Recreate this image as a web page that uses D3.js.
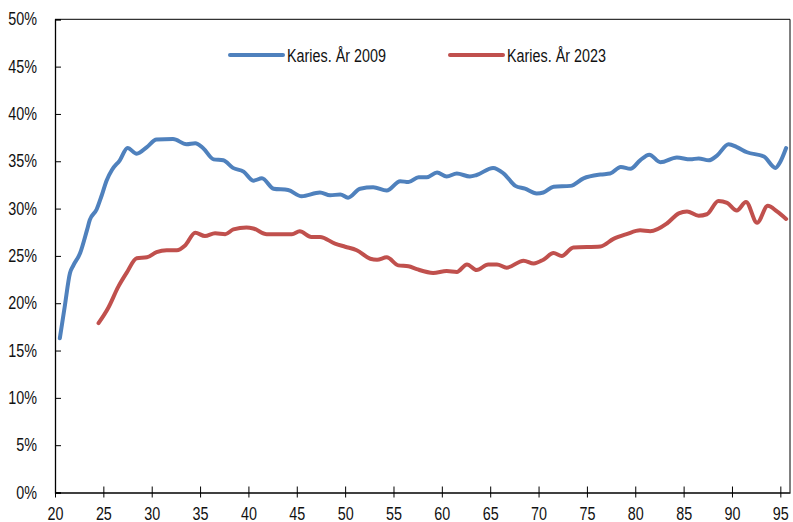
<!DOCTYPE html>
<html>
<head>
<meta charset="utf-8">
<script src="https://cdn.jsdelivr.net/npm/d3@7"></script>
<style>
  body { margin: 0; background: #fff; }
  text { font-family: "Liberation Sans", Arial, sans-serif; fill: #111; }
</style>
</head>
<body>
<svg></svg>
<script>
// age (x) and share with caries (%)
let ages2009 = [20.5, 21.0, 21.55, 21.9, 22.6, 23.3, 23.6, 24.3, 24.8, 25.35, 25.9, 26.7, 27.5, 28.45, 29.5, 30.5, 32.2, 33.6, 34.5, 35.3, 36.4, 37.4, 38.4, 39.5, 40.5, 41.4, 42.6, 44.1, 45.5, 47.4, 48.45, 49.5, 50.3, 51.55, 52.9, 54.3, 55.7, 56.55, 57.6, 58.45, 59.5, 60.5, 61.55, 62.9, 63.6, 65.3, 66.4, 67.6, 68.6, 69.8, 70.5, 71.55, 73.3, 74.65, 76.4, 77.4, 78.5, 79.5, 80.5, 81.45, 82.6, 84.3, 85.7, 86.55, 87.6, 88.45, 89.65, 90.5, 91.55, 93.3, 94.5, 95.0, 95.6];
let values2009 = [16.3, 19.6, 23.2, 24.0, 25.3, 27.7, 28.8, 29.9, 31.3, 33.0, 34.1, 35.1, 36.4, 35.8, 36.5, 37.3, 37.35, 36.8, 36.9, 36.4, 35.2, 35.1, 34.3, 33.9, 32.95, 33.2, 32.1, 31.96, 31.3, 31.7, 31.4, 31.5, 31.15, 32.1, 32.25, 31.9, 32.9, 32.8, 33.3, 33.3, 33.8, 33.4, 33.7, 33.4, 33.55, 34.3, 33.7, 32.4, 32.1, 31.6, 31.7, 32.3, 32.4, 33.2, 33.6, 33.7, 34.4, 34.2, 35.1, 35.7, 34.9, 35.4, 35.2, 35.3, 35.1, 35.6, 36.8, 36.5, 35.95, 35.5, 34.3, 34.95, 36.4];

let ages2023 = [24.5, 25.5, 26.55, 27.4, 28.45, 29.5, 30.5, 31.55, 32.6, 33.45, 34.5, 35.5, 36.55, 37.6, 38.45, 39.8, 40.5, 41.9, 43.6, 44.5, 45.3, 46.5, 47.4, 48.95, 50.0, 51.2, 52.6, 53.3, 54.3, 55.5, 56.55, 57.4, 59.1, 60.5, 61.55, 62.6, 63.6, 64.8, 65.7, 66.7, 68.45, 69.5, 70.5, 71.55, 72.4, 73.6, 76.4, 77.75, 79.1, 80.5, 81.55, 83.3, 84.5, 85.35, 86.55, 87.4, 88.6, 89.5, 90.5, 91.45, 92.6, 93.7, 94.65, 95.6];
let values2023 = [17.9, 19.5, 21.75, 23.2, 24.75, 24.85, 25.4, 25.6, 25.6, 26.1, 27.45, 27.1, 27.4, 27.3, 27.8, 28.0, 27.9, 27.3, 27.3, 27.3, 27.6, 27.0, 27.0, 26.3, 25.97, 25.6, 24.7, 24.6, 24.85, 24.0, 23.9, 23.6, 23.2, 23.4, 23.3, 24.1, 23.5, 24.1, 24.1, 23.75, 24.5, 24.2, 24.6, 25.3, 25.0, 25.9, 26.0, 26.8, 27.3, 27.7, 27.6, 28.45, 29.5, 29.7, 29.25, 29.4, 30.8, 30.6, 29.8, 30.7, 28.5, 30.3, 29.7, 28.9];

let seriesNames = ['Karies. År 2009', 'Karies. År 2023'];
let seriesColors = ['#4F81BD', '#C0504D'];
let xTicks = [20, 25, 30, 35, 40, 45, 50, 55, 60, 65, 70, 75, 80, 85, 90, 95];
let yTicks = [0, 5, 10, 15, 20, 25, 30, 35, 40, 45, 50];

let width = 793;
let height = 522;
let plotLeft = 55, plotRight = 790, plotTop = 19.3, plotBottom = 492.5;
let fontSize = '17.5px';
let narrow = 'scale(0.82,1)'; // Arial -> Arial Narrow look

let svg = d3.select('svg').attr('width', width).attr('height', height);

let xScale = d3.scaleLinear().domain([20, 96]).range([plotLeft, plotRight]);
let yScale = d3.scaleLinear().domain([0, 50]).range([plotBottom, plotTop]);

/*frame: top and right edges*/
svg.append('path')
    .attr('d', 'M' + plotLeft + ',' + plotTop + 'H' + plotRight + 'V' + plotBottom)
    .attr('fill', 'none')
    .attr('stroke', '#000')
    .attr('stroke-width', 1);

/*y axis, ticks pointing inward*/
let yAxis = d3.axisLeft(yScale)
    .tickValues(yTicks)
    .tickSize(-6)
    .tickPadding(18)
    .tickFormat(d => d + '%');
let gy = svg.append('g')
    .attr('transform', 'translate(' + plotLeft + ',0)')
    .call(yAxis);
gy.select('.domain').attr('stroke', '#000').attr('stroke-width', 1.3);
gy.selectAll('.tick line').attr('stroke', '#000');
gy.selectAll('text')
    .attr('x', 0)
    .attr('transform', 'translate(-18,0) ' + narrow)
    .style('font-size', fontSize)
    .attr('fill', '#111');

/*x axis, ticks crossing the line*/
let xAxis = d3.axisBottom(xScale)
    .tickValues(xTicks)
    .tickSize(5)
    .tickPadding(10)
    .tickSizeOuter(0);
let gx = svg.append('g')
    .attr('transform', 'translate(0,' + plotBottom + ')')
    .call(xAxis);
gx.select('.domain').attr('stroke', '#000').attr('stroke-width', 1.3);
gx.selectAll('.tick line').attr('stroke', '#000').attr('y1', -6);
gx.selectAll('text')
    .attr('transform', narrow)
    .style('font-size', fontSize)
    .attr('fill', '#111');

/*lines*/
let line = d3.line()
    .x(d => xScale(d[0]))
    .y(d => yScale(d[1]))
    .curve(d3.curveMonotoneX);

let series = [
    d3.zip(ages2009, values2009),
    d3.zip(ages2023, values2023)
];

series.forEach((pts, i) => {
    svg.append('path')
        .datum(pts)
        .attr('d', line)
        .attr('fill', 'none')
        .attr('stroke', seriesColors[i])
        .attr('stroke-width', 4)
        .attr('stroke-linejoin', 'round')
        .attr('stroke-linecap', 'round');
});

/*legend*/
let legendX = [230, 450];
seriesNames.forEach((name, i) => {
    let g = svg.append('g').attr('transform', 'translate(' + legendX[i] + ',55)');
    g.append('line')
        .attr('x1', 0).attr('x2', 53)
        .attr('stroke', seriesColors[i])
        .attr('stroke-width', 4)
        .attr('stroke-linecap', 'round');
    g.append('text')
        .attr('transform', 'translate(57,6.5) ' + narrow)
        .style('font-size', fontSize)
        .text(name);
});
</script>
</body>
</html>
